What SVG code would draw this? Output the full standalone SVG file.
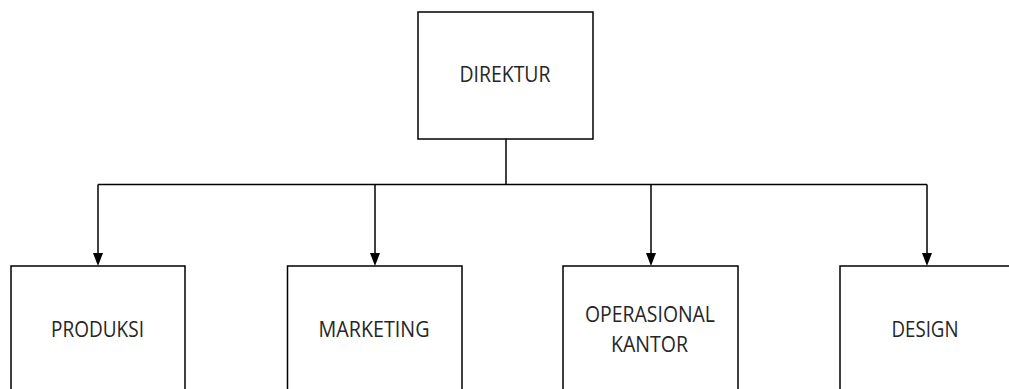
<svg xmlns="http://www.w3.org/2000/svg" width="1009" height="389" viewBox="0 0 1009 389">
  <style>
    .box { fill: #ffffff; stroke: #000000; stroke-width: 1.5; }
    .line { fill: none; stroke: #000000; stroke-width: 1.5; }
    .head { fill: #000000; }
    .label { font-family: "Open Sans", "Noto Sans", "Liberation Sans", sans-serif; font-size: 21.5px; fill: #262626; text-anchor: middle; }
  </style>
  <rect width="1009" height="389" fill="#ffffff"/>
  <g id="connectors">
    <path class="line" d="M506 139 V184.5"/>
    <path class="line" d="M98 184.5 H927"/>
    <path class="line" d="M98 184.5 V254"/>
    <path class="line" d="M375 184.5 V254"/>
    <path class="line" d="M651 184.5 V254"/>
    <path class="line" d="M927 184.5 V254"/>
    <polygon class="head" points="93,253 103,253 98,266"/>
    <polygon class="head" points="370,253 380,253 375,266"/>
    <polygon class="head" points="646,253 656,253 651,266"/>
    <polygon class="head" points="922,253 932,253 927,266"/>
  </g>
  <g id="direktur">
    <rect class="box" x="418" y="12" width="175" height="127"/>
    <text class="label" x="505" y="82" textLength="91" lengthAdjust="spacingAndGlyphs">DIREKTUR</text>
  </g>
  <g id="produksi">
    <rect class="box" x="11" y="266" width="174" height="140"/>
    <text class="label" x="97.5" y="337" textLength="93" lengthAdjust="spacingAndGlyphs">PRODUKSI</text>
  </g>
  <g id="marketing">
    <rect class="box" x="287.5" y="266" width="174.5" height="140"/>
    <text class="label" x="374" y="337" textLength="111" lengthAdjust="spacingAndGlyphs">MARKETING</text>
  </g>
  <g id="operasional-kantor">
    <rect class="box" x="563" y="266" width="175" height="140"/>
    <text class="label" x="650" y="322" textLength="130" lengthAdjust="spacingAndGlyphs">OPERASIONAL</text>
    <text class="label" x="649.5" y="352" textLength="77" lengthAdjust="spacingAndGlyphs">KANTOR</text>
  </g>
  <g id="design">
    <rect class="box" x="840" y="266" width="175" height="140"/>
    <text class="label" x="925" y="337" textLength="67" lengthAdjust="spacingAndGlyphs">DESIGN</text>
  </g>
</svg>
